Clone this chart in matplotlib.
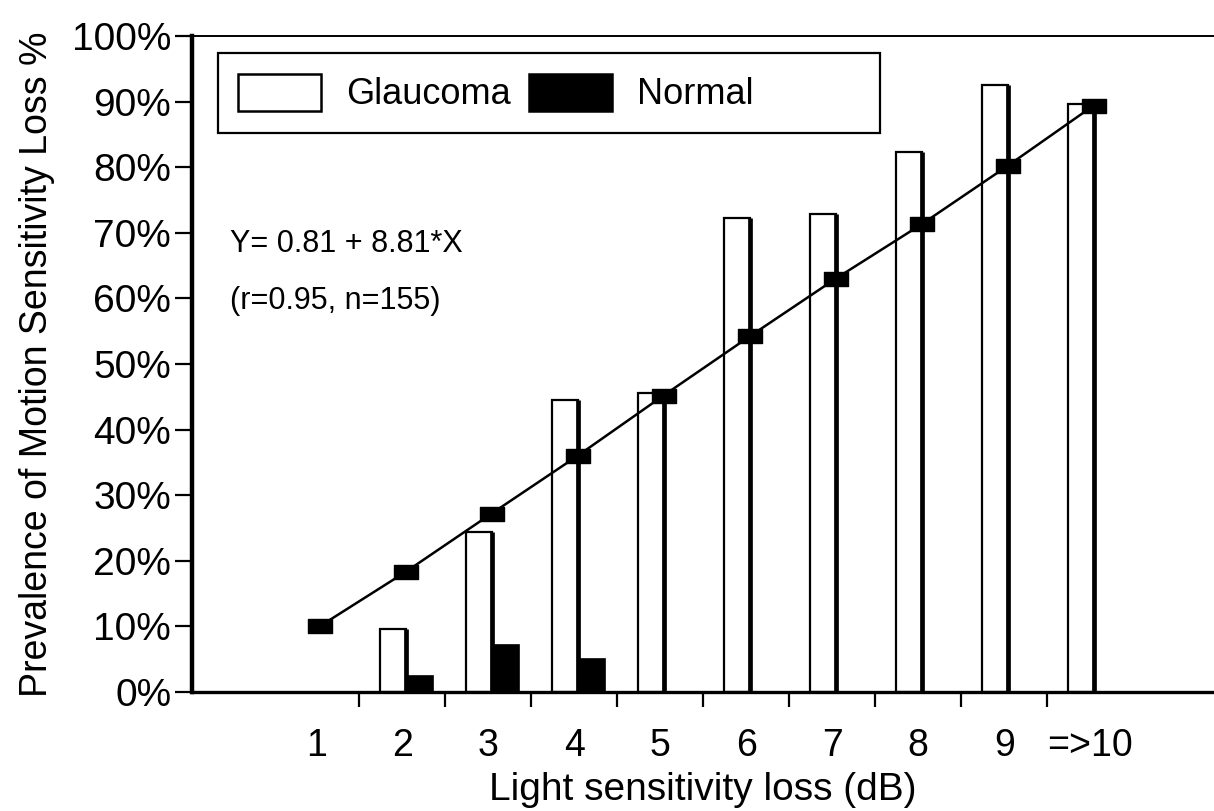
import numpy as np
import matplotlib.pyplot as plt
from matplotlib.patches import Rectangle
from matplotlib.path import Path

# values (percent)
categories = ['1', '2', '3', '4', '5', '6', '7', '8', '9', '=>10']
glaucoma = [0, 9.6, 24.4, 44.5, 45.6, 72.3, 72.8, 82.3, 92.6, 89.6]
normal = [0, 2.4, 7.2, 5.0, 0, 0, 0, 0, 0, 0]
fit_points = [10.0, 18.3, 27.2, 36.0, 45.2, 54.2, 63.0, 71.3, 80.2, 89.4]
y_ticks = [0, 10, 20, 30, 40, 50, 60, 70, 80, 90, 100]

plt.rcParams['font.family'] = ['Liberation Sans', 'DejaVu Sans']

fig = plt.figure(figsize=(12.14, 8.11), dpi=100)
ax = fig.add_axes([0.1582, 0.1467, 0.8418, 0.8089])

x = np.arange(1, len(categories) + 1)
w = 0.31
g = np.array(glaucoma)
n = np.array(normal)

# glaucoma: open bars, heavy right edge
gm = g > 0
ax.bar(x[gm] - 0.105, g[gm], width=w, facecolor='white', edgecolor='black',
       linewidth=1.6, zorder=2)
ax.vlines(x[gm] + 0.05, 0, g[gm], color='black', linewidth=3.4, zorder=3)

# normal: filled bars
nm = n > 0
ax.bar(x[nm] + 0.205, n[nm], width=w, facecolor='black', edgecolor='black',
       linewidth=1.2, zorder=2)

# regression line with rectangular markers
rect = Path([(-0.8, -0.5), (0.8, -0.5), (0.8, 0.5), (-0.8, 0.5), (-0.8, -0.5)],
            [Path.MOVETO, Path.LINETO, Path.LINETO, Path.LINETO, Path.CLOSEPOLY])
ax.plot(x + 0.04, fit_points, color='black', linewidth=1.8, marker=rect,
        markersize=17, markerfacecolor='black', markeredgecolor='black', zorder=4)

ax.set_xlim(-0.442, 11.44)
ax.set_ylim(0, 100)

ax.set_yticks(y_ticks)
ax.set_yticklabels([f'{v}%' for v in y_ticks], fontsize=28)
ax.tick_params(axis='y', direction='out', length=12, width=1.6, pad=3)

ax.set_xticks(x)
ax.set_xticklabels(categories, fontsize=27)
ax.set_xticks(x[:-1] + 0.5, minor=True)
ax.tick_params(axis='x', which='major', length=0, pad=26)
ax.tick_params(axis='x', which='minor', direction='out', length=11, width=1.6)

ax.spines['left'].set_linewidth(3.2)
ax.spines['bottom'].set_linewidth(2.4)
ax.spines['top'].set_linewidth(1.4)
ax.spines['right'].set_visible(False)

ax.set_xlabel('Light sensitivity loss (dB)', fontsize=28, labelpad=6)
ax.set_ylabel('Prevalence of Motion Sensitivity Loss %', fontsize=27, labelpad=12)

# legend with a wide frame drawn separately
ax.add_patch(Rectangle((0.0254, 0.852), 0.6475, 0.122, transform=ax.transAxes,
                       facecolor='white', edgecolor='black', linewidth=1.6, zorder=5))
handles = [Rectangle((0, 0), 1, 1, facecolor='white', edgecolor='black', linewidth=1.8),
           Rectangle((0, 0), 1, 1, facecolor='black', edgecolor='black', linewidth=1.8)]
leg = ax.legend(handles, ['Glaucoma', 'Normal'], ncol=2, frameon=False,
                loc='center left', bbox_to_anchor=(0.02, 0.913), fontsize=26,
                handlelength=2.3, handleheight=1.2, handletextpad=0.7,
                columnspacing=0.5, borderpad=0.2)
leg.set_zorder(6)

ax.text(0.037, 68.3, 'Y= 0.81 + 8.81*X', transform=ax.get_yaxis_transform(),
        fontsize=22, va='center', ha='left')
ax.text(0.037, 59.6, '(r=0.95, n=155)', transform=ax.get_yaxis_transform(),
        fontsize=22, va='center', ha='left')

fig.savefig('out.png', dpi=100)
plt.close(fig)
